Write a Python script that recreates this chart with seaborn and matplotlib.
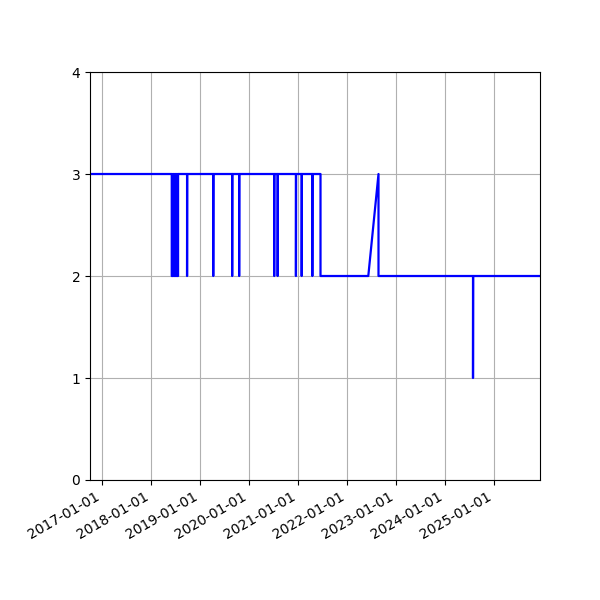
import matplotlib
matplotlib.use('Agg')
import matplotlib.pyplot as plt
import matplotlib.dates as mdates
import seaborn as sns
import pandas as pd

# dates of each point, in order (repeated dates give the vertical drops)
dates = ['2016-10-04',
         '2018-06-05', '2018-06-05', '2018-06-12', '2018-06-12', '2018-06-19', '2018-06-19',
         '2018-06-26', '2018-06-26', '2018-07-03', '2018-07-03', '2018-07-10', '2018-07-10',
         '2018-07-17', '2018-07-17', '2018-07-22', '2018-07-22',
         '2018-09-27', '2018-09-27', '2018-09-28',
         '2019-04-10', '2019-04-10', '2019-04-11',
         '2019-08-29', '2019-08-29', '2019-08-30',
         '2019-10-20', '2019-10-20', '2019-10-21',
         '2020-07-07', '2020-07-07', '2020-07-08',
         '2020-08-02', '2020-08-02', '2020-08-03',
         '2020-12-16', '2020-12-16', '2020-12-17',
         '2021-01-28', '2021-01-28', '2021-01-29',
         '2021-04-17', '2021-04-17', '2021-04-18',
         '2021-06-17', '2021-06-17',
         '2022-06-08', '2022-08-23', '2022-08-23',
         '2024-07-27', '2024-07-27', '2024-07-28',
         '2025-12-08']
values = [3,
          3, 2, 2, 3, 3, 2,
          2, 3, 3, 2, 2, 3,
          3, 2, 2, 3,
          3, 2, 3,
          3, 2, 3,
          3, 2, 3,
          3, 2, 3,
          3, 2, 3,
          3, 2, 3,
          3, 2, 3,
          3, 2, 3,
          3, 2, 3,
          3, 2,
          2, 3, 2,
          2, 1, 2,
          2]

df = pd.DataFrame({'date': pd.to_datetime(dates), 'value': values})

fig, ax = plt.subplots(figsize=(6, 6), dpi=100)
sns.lineplot(data=df, x='date', y='value', estimator=None, sort=False,
             color='blue', lw=1.6, ax=ax)
ax.set_xlim(df['date'].min(), df['date'].max())
ax.set_ylim(0, 4)
ax.set_yticks([0, 1, 2, 3, 4])
ax.xaxis.set_major_locator(mdates.YearLocator())
ax.xaxis.set_major_formatter(mdates.DateFormatter('%Y-%m-%d'))
ax.set_xlabel('')
ax.set_ylabel('')
ax.grid(True)
fig.autofmt_xdate()
plt.subplots_adjust(left=0.15, right=0.9, top=0.88, bottom=0.2)
fig.savefig('out.png', dpi=100)
